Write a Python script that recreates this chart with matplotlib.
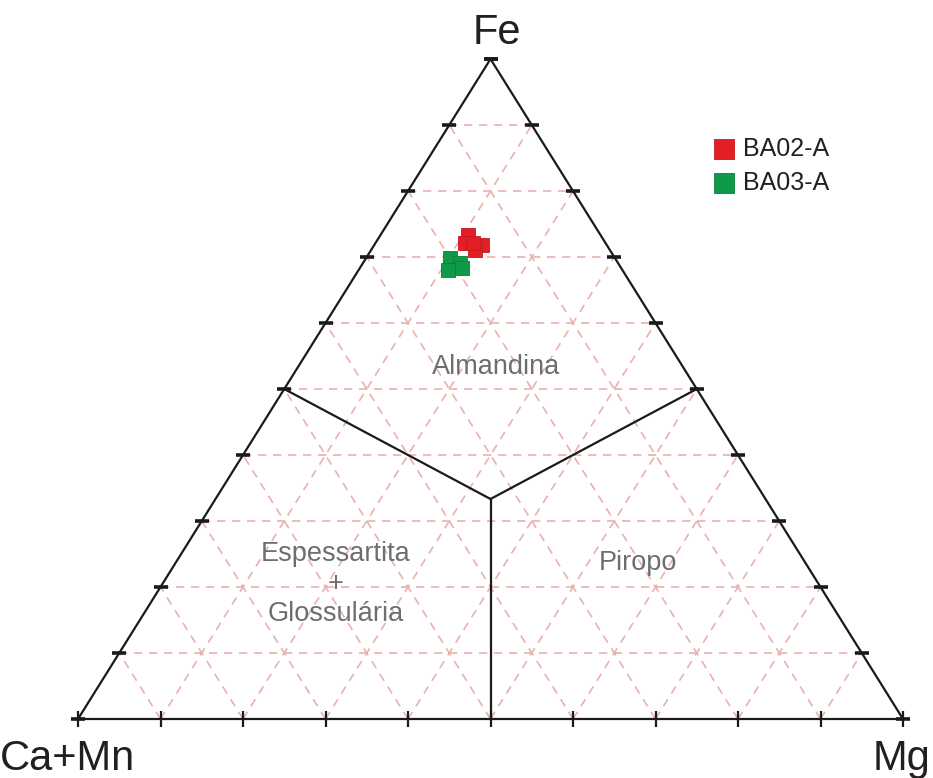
import numpy as np
import matplotlib.pyplot as plt

plt.rcParams['font.family'] = ['Liberation Sans', 'DejaVu Sans']

# ternary fractions (Ca+Mn, Fe, Mg) of the garnet analyses
ba02_camn = [0.161, 0.171, 0.151, 0.163, 0.161]
ba02_fe = [0.733, 0.721, 0.718, 0.711, 0.721]
ba02_mg = [0.106, 0.108, 0.131, 0.126, 0.118]

ba03_camn = [0.200, 0.191, 0.212, 0.193]
ba03_fe = [0.698, 0.691, 0.680, 0.683]
ba03_mg = [0.102, 0.118, 0.108, 0.124]

apex_labels = ['Ca+Mn', 'Fe', 'Mg']
field_labels = ['Almandina', 'Espessartita\n+\nGlossulária', 'Piropo']
series_names = ['BA02-A', 'BA03-A']
n_div = 10


def to_xy(camn, fe, mg):
    camn, fe, mg = np.asarray(camn), np.asarray(fe), np.asarray(mg)
    tot = camn + fe + mg
    return (mg + fe / 2) / tot, fe / tot


fig = plt.figure(figsize=(9.33, 7.78), dpi=100)
ax = fig.add_axes([0, 0, 1, 1])
ax.set_xlim(-78 / 825, 855 / 825)
ax.set_ylim(-59 / 660, 719 / 660)
ax.axis('off')

grid_kw = dict(color='#e9b1ad', lw=1.2, ls=(0, (5, 4)), zorder=1)
for k in range(1, n_div):
    f = k / n_div
    # constant Fe
    x, y = to_xy([1 - f, 0], [f, f], [0, 1 - f])
    ax.plot(x, y, **grid_kw)
    # constant Mg
    x, y = to_xy([1 - f, 0], [0, 1 - f], [f, f])
    ax.plot(x, y, **grid_kw)
    # constant Ca+Mn
    x, y = to_xy([f, f], [0, 1 - f], [1 - f, 0])
    ax.plot(x, y, **grid_kw)

# triangle outline
x, y = to_xy([1, 0, 0, 1], [0, 1, 0, 0], [0, 0, 1, 0])
ax.plot(x, y, color='#1a1a1a', lw=1.6, zorder=3)

# ticks
fr = np.linspace(0, 1, n_div + 1)
x, y = to_xy(1 - fr, fr, np.zeros_like(fr))
ax.plot(x, y, ls='none', marker='_', ms=10, mew=2.6, color='#1a1a1a', zorder=3)
x, y = to_xy(np.zeros_like(fr), fr, 1 - fr)
ax.plot(x, y, ls='none', marker='_', ms=10, mew=2.6, color='#1a1a1a', zorder=3)
x, y = to_xy(1 - fr, np.zeros_like(fr), fr)
ax.plot(x, y, ls='none', marker='|', ms=11, mew=1.6, color='#1a1a1a', zorder=3)

# field boundaries from centroid to edge midpoints
cx, cy = to_xy([1], [1], [1])
for m in ([0.5, 0.5, 0], [0, 0.5, 0.5], [0.5, 0, 0.5]):
    mx, my = to_xy(*[[v] for v in m])
    ax.plot([cx[0], mx[0]], [cy[0], my[0]], color='#1a1a1a', lw=1.6, zorder=3)

# apex labels
ink = '#231f20'
ax.text(0.5 + 6 / 825, 1.0 + 15 / 660, apex_labels[1], fontsize=30, ha='center', va='baseline', color=ink)
ax.text(-78 / 825, -51 / 660, apex_labels[0], fontsize=30, ha='left', va='baseline', color=ink)
ax.text(1.0 + 27 / 825, -51 / 660, apex_labels[2], fontsize=30, ha='right', va='baseline', color=ink)

# field labels
gray = '#6d6e71'
ax.text(0.507, 0.533, field_labels[0], fontsize=19.5, color=gray, ha='center', va='center')
ax.text(0.312, 0.205, field_labels[1], fontsize=19.5, color=gray, ha='center', va='center',
        linespacing=1.2)
ax.text(0.679, 0.236, field_labels[2], fontsize=19.5, color=gray, ha='center', va='center')

# data
x, y = to_xy(ba02_camn, ba02_fe, ba02_mg)
ax.scatter(x, y, marker='s', s=110, c='#e31e24', edgecolors='#c41a1f', linewidths=0.6,
           zorder=5, label=series_names[0])
x, y = to_xy(ba03_camn, ba03_fe, ba03_mg)
ax.scatter(x, y, marker='s', s=110, c='#0f9a48', edgecolors='#0b7f3a', linewidths=0.6,
           zorder=5, label=series_names[1])

leg = ax.legend(loc='upper left', bbox_to_anchor=(699 / 933, 1 - 124 / 778), frameon=False,
                fontsize=18, handletextpad=0.25, labelspacing=0.4, markerscale=1.4,
                borderpad=0, handlelength=1.0)
for t in leg.get_texts():
    t.set_color(ink)

plt.savefig('out.png', dpi=100)
plt.close()
